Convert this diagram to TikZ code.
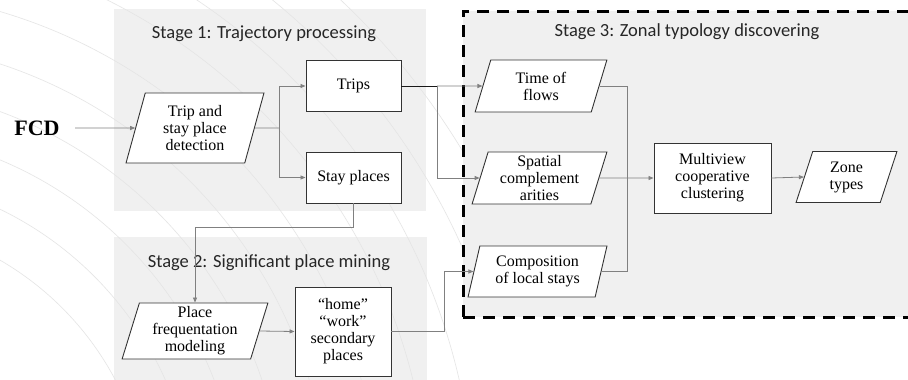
\documentclass[tikz,border=0pt]{standalone}
\usepackage{fontspec}
\setmainfont{Liberation Serif}
\newfontfamily\calib{Carlito}
\usetikzlibrary{shapes.geometric,arrows.meta}
\begin{document}
\begin{tikzpicture}[x=1pt,y=-1pt,
 box/.style={draw=black!80,line width=0.9pt,fill=white,align=center,inner sep=1pt,font=\fontsize{16}{17}\selectfont},
 para/.style={box,trapezium,trapezium left angle=75,trapezium right angle=105,trapezium stretches=true},
 conn/.style={draw=black!50,line width=0.8pt},
 arr/.style={conn,-{Triangle[length=5pt,width=4pt]}},
 stagebg/.style={fill=black!6,draw=none,inner sep=0pt,anchor=north west},
 title/.style={font=\calib\fontsize{18.5}{20}\selectfont,text=black!85}
]
\useasboundingbox (0,0) rectangle (908,380);
\fill[white] (0,0) rectangle (908,380);
% stage 1 and 2 backgrounds
\node[stagebg,minimum width=312pt,minimum height=202pt] (s1) at (114,9) {};
\node[stagebg,minimum width=313pt,minimum height=150pt] (s2) at (114,237) {};
% faint background arcs
\begin{scope}
\clip (0,0) rectangle (462,380);
\foreach \r in {300,345,390,435,480,530,580,625,670,715}
  \draw[black!10,line width=0.6pt] (-150,520) circle[radius=\r pt];
\end{scope}
% stage 3 background
\node[stagebg,minimum width=520pt,minimum height=306pt,draw=black,line width=2.6pt,dash pattern=on 12pt off 8pt] (s3) at (462,10) {};
% titles
\node[title] (t1) at (264,34) {Stage 1: Trajectory processing};
\node[title] (t2) at (269,263) {Stage 2: Significant place mining};
\node[title] (t3) at (687,32) {Stage 3: Zonal typology discovering};
% nodes
\node[font=\bfseries\fontsize{22}{24}\selectfont] (fcd) at (37,128) {FCD};
\node[para,minimum width=138pt,minimum height=70pt] (det) at (195,128) {Trip and\\stay place\\detection};
\node[box,minimum width=95pt,minimum height=51pt] (trips) at (353.5,86) {Trips};
\node[box,minimum width=95pt,minimum height=51pt] (stay) at (353.5,177.5) {Stay places};
\node[para,minimum width=146pt,minimum height=56pt] (pfm) at (195,331) {Place\\frequentation\\modeling};
\node[box,minimum width=96pt,minimum height=89pt] (home) at (343,331.5) {“home”\\“work”\\secondary\\places};
\node[para,minimum width=132pt,minimum height=52pt] (tof) at (541,86) {Time of\\flows};
\node[para,minimum width=135pt,minimum height=52pt] (spa) at (539.5,178) {Spatial\\complement\\arities};
\node[para,minimum width=139pt,minimum height=51pt] (comp) at (537.5,271.5) {Composition\\of local stays};
\node[box,minimum width=117pt,minimum height=70pt] (mv) at (712.5,178) {Multiview\\cooperative\\clustering};
\node[para,minimum width=101pt,minimum height=51pt] (zone) at (846.5,177) {Zone\\types};
% junctions
\coordinate (j1) at (279,128);
\coordinate (j2) at (437,86);
\coordinate (j3) at (444,331.5);
\coordinate (j4) at (627,178);
% connectors
\draw[arr,shorten <=12pt] (fcd.east) -- (det.west);
\draw[conn] (det.east) -- (j1);
\draw[arr] (j1) |- (trips.west);
\draw[arr] (j1) |- (stay.west);
\draw[conn,draw=black!90,line width=1pt] (trips.east) -- (j2);
\draw[arr] (j2) -- (tof.west);
\draw[arr] (j2) |- (spa.west);
\draw[arr] (stay.south) -- ++(0,24) -| (pfm.north);
\draw[arr] (pfm.east) -- (home.west);
\draw[arr] (home.east) -- (j3) |- (comp.west);
\draw[conn] (tof.east) -| (j4);
\draw[conn] (comp.east) -| (j4);
\draw[arr] (spa.east) -- (mv.west);
\draw[arr] (mv.east) -- (zone.west);
\end{tikzpicture}
\end{document}
